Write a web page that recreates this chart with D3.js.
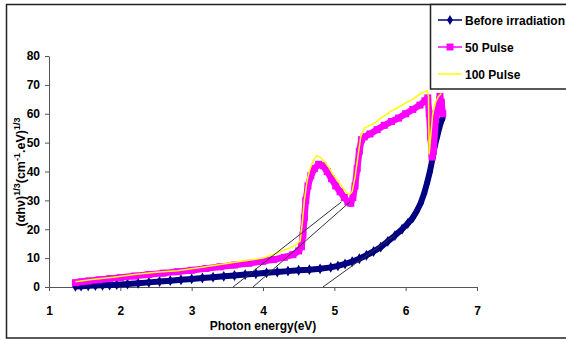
<!DOCTYPE html>
<html><head><meta charset="utf-8">
<script src="https://cdn.jsdelivr.net/npm/d3@7"></script>
<style>
html,body{margin:0;padding:0;background:#fff;}
svg text{font-family:"Liberation Sans Narrow","Arial Narrow","Liberation Sans",Arial,sans-serif;font-weight:bold;fill:#000;}
</style></head>
<body>
<svg id="c" width="566" height="340"></svg>
<script>
const xTicks = [1,2,3,4,5,6,7];
const yTicks = [0,10,20,30,40,50,60,70,80];
const seriesNames = ["Before irradiation","50 Pulse","100 Pulse"];

const beforeX = [1.37,1.45,1.55,1.65,1.75,1.85,1.95,2.1,2.25,2.4,2.55,2.7,2.85,3.0,3.15,3.3,3.45,3.6,3.75,3.9,4.05,4.2,4.35,4.5,4.65,4.8,4.95,5.05,5.15,5.25,5.35,5.45,5.55,5.65,5.75,5.85,5.95,6.03,6.1,6.16,6.21,6.26,6.3,6.34,6.38,6.41,6.44,6.47,6.5,6.52];
const beforeY = [0.2,0.3,0.4,0.5,0.6,0.7,0.8,1.0,1.3,1.6,1.9,2.2,2.5,2.8,3.1,3.4,3.7,4.0,4.3,4.6,4.9,5.2,5.5,5.8,6.0,6.3,6.8,7.3,8.0,8.8,9.8,11.0,12.3,13.8,15.8,17.8,20.0,22.0,24.0,26.5,29.0,32.5,36.0,40.0,45.0,49.0,52.0,55.0,57.5,58.5];

const p50X = [1.37,1.45,1.55,1.7,1.85,2.0,2.2,2.4,2.6,2.8,3.0,3.2,3.4,3.6,3.8,4.0,4.15,4.3,4.42,4.5,4.54,4.56,4.58,4.6,4.63,4.67,4.72,4.78,4.84,4.9,4.96,5.02,5.08,5.14,5.19,5.23,5.26,5.29,5.32,5.35,5.38,5.42,5.5,5.6,5.7,5.8,5.9,6.0,6.1,6.2,6.27,6.31,6.33,6.35,6.37,6.39,6.42,6.45,6.48,6.5,6.52];
const p50Y = [1.5,1.8,2.1,2.5,2.9,3.3,3.8,4.3,4.8,5.3,5.8,6.4,7.0,7.6,8.2,8.9,9.5,10.3,11.2,12.5,14,18,24,30,35,38.5,41,42.5,42,40,37.5,35,33,31,29.5,29,31,35,41,47,51,52,53,54.5,56,57.3,58.5,60,61.5,63,64.5,65.5,60,52,45,47,58,62,66,64,60];

const p100X = [1.37,1.6,1.9,2.2,2.5,2.8,3.1,3.4,3.7,4.0,4.2,4.35,4.45,4.52,4.55,4.58,4.62,4.66,4.7,4.75,4.8,4.86,4.92,4.98,5.04,5.1,5.16,5.21,5.25,5.29,5.33,5.37,5.42,5.5,5.58,5.65,5.72,5.8,5.88,5.95,6.02,6.1,6.18,6.25,6.3,6.32,6.33,6.35,6.38,6.42,6.46,6.5];
const p100Y = [1.8,2.6,3.4,4.3,5.1,5.6,6.7,7.8,8.9,10.0,11.8,13.3,14.3,16,22,30,37,41,43.5,45.5,45,43.5,41.5,39,37,35,33,32,33,38,45,52,55,56,57,58.5,59.5,61,62,63,64,65,66.5,67.5,68,66,46,52,60,64,66,67];

const tanX0 = [3.58,3.86,4.84];
const tanX1 = [5.1,5.22,5.85];
const tanY1 = [29.5,29.5,18];

const svg = d3.select("#c");
const x = d3.scaleLinear().domain([1,7]).range([49,477]);
const y = d3.scaleLinear().domain([0,80]).range([287,56]);

// outer frame
svg.append("rect").attr("x",6.5).attr("y",4.5).attr("width",600).attr("height",333.5)
  .attr("fill","none").attr("stroke","#222").attr("stroke-width",1.5);

// axes
const xAxis = d3.axisBottom(x).tickValues(xTicks).tickFormat(d3.format("d")).tickSize(4).tickSizeOuter(0);
const gx = svg.append("g").attr("transform","translate(0,287)").call(xAxis);
gx.select(".domain").attr("stroke","#555");
gx.selectAll(".tick line").attr("stroke","#555");
gx.selectAll(".tick text").attr("dy",0).attr("y",28).style("font-size","12px");

const yAxis = d3.axisLeft(y).tickValues(yTicks).tickSize(4).tickSizeOuter(0);
const gy = svg.append("g").attr("transform","translate(49,0)").call(yAxis);
gy.select(".domain").attr("stroke","#555");
gy.selectAll(".tick line").attr("stroke","#555");
gy.selectAll(".tick text").attr("x",-9).style("font-size","12px");

// axis titles
svg.append("text").attr("x",263).attr("y",330).attr("text-anchor","middle")
  .style("font-size","12px").text("Photon energy(eV)");
const yt = svg.append("text").attr("transform","translate(25,172) rotate(-90)")
  .attr("text-anchor","middle").style("font-size","12.5px");
yt.append("tspan").text("(\u03b1h\u03bd)");
yt.append("tspan").attr("dy",-5).style("font-size","9px").text("1/3");
yt.append("tspan").attr("dy",5).text("(cm");
yt.append("tspan").attr("dy",-5).style("font-size","9px").text("-1");
yt.append("tspan").attr("dy",5).text(".eV)");
yt.append("tspan").attr("dy",-5).style("font-size","9px").text("1/3");

const line = d3.line().x(d=>x(d[0])).y(d=>y(d[1]));
const before = beforeX.map((v,i)=>[v,beforeY[i]]);
const p50 = p50X.map((v,i)=>[v,p50Y[i]]);
const p100 = p100X.map((v,i)=>[v,p100Y[i]]);

// Before irradiation
svg.append("path").datum(before).attr("d",line).attr("fill","none")
  .attr("stroke","#000080").attr("stroke-width",6).attr("stroke-linejoin","round");
svg.append("g").selectAll("path").data(before).join("path")
  .attr("d",d3.symbol(d3.symbolDiamond,34))
  .attr("transform",d=>`translate(${x(d[0])},${y(d[1])})`).attr("fill","#000080");

// 50 Pulse
svg.append("path").datum(p50).attr("d",line).attr("fill","none")
  .attr("stroke","#ff00ff").attr("stroke-width",6.5).attr("stroke-linejoin","round");
svg.append("g").selectAll("rect").data(p50).join("rect")
  .attr("x",d=>x(d[0])-3.5).attr("y",d=>y(d[1])-3.5).attr("width",7).attr("height",7)
  .attr("fill","#ff00ff");

// 100 Pulse
svg.append("path").datum(p100).attr("d",line).attr("fill","none")
  .attr("stroke","#ffff00").attr("stroke-width",1.5);

// tangent lines
svg.append("g").selectAll("line").data(tanX0).join("line")
  .attr("x1",d=>x(d)).attr("y1",y(0))
  .attr("x2",(d,i)=>x(tanX1[i])).attr("y2",(d,i)=>y(tanY1[i]))
  .attr("stroke","#333").attr("stroke-width",1);

// legend
svg.append("rect").attr("x",430.5).attr("y",4.5).attr("width",200).attr("height",84.5)
  .attr("fill","#fff").attr("stroke","#222").attr("stroke-width",1.5);
const ly = [20,47,74];
const lcol = ["#000080","#ff00ff","#ffff00"];
seriesNames.forEach((n,i)=>{
  svg.append("line").attr("x1",438).attr("x2",462).attr("y1",ly[i]).attr("y2",ly[i])
    .attr("stroke",lcol[i]).attr("stroke-width",1.5);
  if(i===0) svg.append("path").attr("d",d3.symbol(d3.symbolDiamond,30)).attr("transform",`translate(450,${ly[i]})`).attr("fill",lcol[i]);
  if(i===1) svg.append("rect").attr("x",446.5).attr("y",ly[i]-3.5).attr("width",7).attr("height",7).attr("fill",lcol[i]);
  svg.append("text").attr("x",465).attr("y",ly[i]+4.5).style("font-size","12px").text(n);
});
</script>
</body></html>
